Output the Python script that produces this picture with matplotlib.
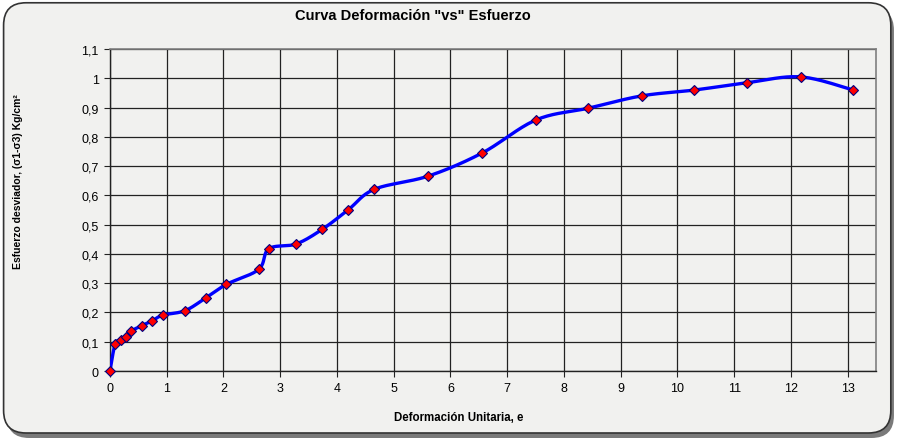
import numpy as np
import matplotlib
matplotlib.use("Agg")
import matplotlib.pyplot as plt
from matplotlib.patches import FancyBboxPatch
from matplotlib.ticker import FuncFormatter

# datos
deformacion = [0.0, 0.09, 0.19, 0.28, 0.37, 0.56, 0.74, 0.93, 1.32, 1.69, 2.05,
               2.62, 2.80, 3.28, 3.74, 4.20, 4.66, 5.61, 6.56, 7.51, 8.43,
               9.37, 10.30, 11.23, 12.17, 13.10]
esfuerzo = [0.0, 0.092, 0.105, 0.117, 0.136, 0.155, 0.171, 0.191, 0.206, 0.250, 0.296,
            0.347, 0.418, 0.434, 0.484, 0.551, 0.621, 0.666, 0.745, 0.858, 0.898,
            0.940, 0.960, 0.985, 1.005, 0.960]

x_ticks = list(range(0, 14))
y_ticks = [i / 10 for i in range(0, 12)]

plt.rcParams["font.family"] = ["Liberation Sans", "DejaVu Sans"]


def suavizar(x, y, n=20, t=0.5):
    # curva tipo Catmull-Rom (linea suavizada como en Excel)
    x = np.asarray(x, float)
    y = np.asarray(y, float)
    px = np.concatenate([[x[0]], x, [x[-1]]])
    py = np.concatenate([[y[0]], y, [y[-1]]])
    xs, ys = [], []
    s = np.linspace(0, 1, n)
    for i in range(1, len(px) - 2):
        p0, p1, p2, p3 = [np.array([px[j], py[j]]) for j in (i - 1, i, i + 1, i + 2)]
        c1 = p1 + t * (p2 - p0) / 3
        c2 = p2 - t * (p3 - p1) / 3
        b = ((1 - s) ** 3)[:, None] * p1 + (3 * (1 - s) ** 2 * s)[:, None] * c1 \
            + (3 * (1 - s) * s ** 2)[:, None] * c2 + (s ** 3)[:, None] * p2
        xs.extend(b[:, 0])
        ys.extend(b[:, 1])
    return np.array(xs), np.array(ys)


fig = plt.figure(figsize=(8.98, 4.39), dpi=100)
fig.patch.set_facecolor("white")

# marco redondeado con sombra
sombra = FancyBboxPatch((0.0075, 0.0), 0.988, 0.98, boxstyle="round,pad=0,rounding_size=0.025",
                        transform=fig.transFigure, facecolor="#7a7a7a", edgecolor="none",
                        mutation_aspect=898 / 439, zorder=-3)
marco = FancyBboxPatch((0.004, 0.0114), 0.988, 0.98, boxstyle="round,pad=0,rounding_size=0.025",
                       transform=fig.transFigure, facecolor="#f1f1ef", edgecolor="#333333",
                       linewidth=1.2, mutation_aspect=898 / 439, zorder=-2)
fig.patches.extend([sombra, marco])

ax = fig.add_axes([0.1225, 0.1526, 0.853, 0.7334])
ax.set_facecolor("none")

xs, ys = suavizar(deformacion, esfuerzo)
ax.plot(xs, ys, color="#0000ff", linewidth=2.4, zorder=3)
ax.plot(deformacion, esfuerzo, linestyle="none", marker="D", markersize=5.5,
        markerfacecolor="#ff0000", markeredgecolor="#000080", markeredgewidth=0.8,
        zorder=4, clip_on=False)

ax.set_xlim(0, 13.5)
ax.set_ylim(0, 1.1)
ax.set_xticks(x_ticks)
ax.set_yticks(y_ticks)
ax.yaxis.set_major_formatter(FuncFormatter(lambda v, p: ("%g" % round(v, 2)).replace(".", ",")))
ax.grid(True, color="#222222", linewidth=0.9)
ax.set_axisbelow(True)
ax.tick_params(axis="both", labelsize=9, length=4, color="#222222", direction="out", pad=4)

for lado in ["top", "right"]:
    ax.spines[lado].set_color("#808080")
    ax.spines[lado].set_linewidth(1.2)
for lado in ["left", "bottom"]:
    ax.spines[lado].set_color("#222222")
    ax.spines[lado].set_linewidth(1.0)

fig.text(0.46, 1 - 16.5 / 439, 'Curva Deformación "vs" Esfuerzo', fontsize=10.5,
         fontweight="bold", ha="center", va="center")
fig.text(459 / 898, 1 - 418 / 439, "Deformación Unitaria, e", fontsize=8.3,
         fontweight="bold", ha="center", va="center")
fig.text(18 / 898, 1 - 181.5 / 439, "Esfuerzo desviador, (σ1-σ3) Kg/cm²", fontsize=7.5,
         fontweight="bold", ha="center", va="center", rotation=90)

fig.savefig("out.png", dpi=100)
